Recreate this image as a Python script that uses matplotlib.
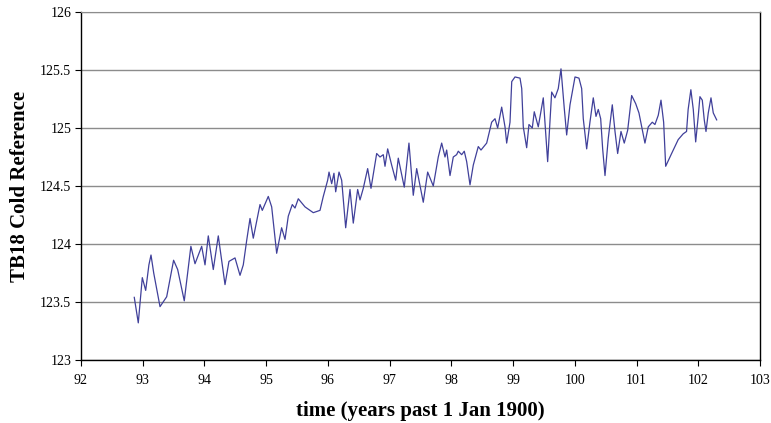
import numpy as np
import matplotlib
matplotlib.use("Agg")
import matplotlib.pyplot as plt

# TB18 cold reference readings, time in years past 1 Jan 1900
t = [92.863, 92.928, 92.993, 93.048, 93.10, 93.134, 93.178, 93.28, 93.388, 93.50,
     93.566, 93.673, 93.78, 93.847, 93.955, 94.009, 94.062, 94.143, 94.224, 94.333,
     94.397, 94.495, 94.576, 94.629, 94.684, 94.738, 94.791, 94.90, 94.937, 95.034,
     95.089, 95.17, 95.25, 95.305, 95.358, 95.423, 95.467, 95.52, 95.629, 95.763,
     95.872, 95.925, 95.996, 96.018, 96.061, 96.098, 96.126, 96.18, 96.223, 96.288,
     96.358, 96.411, 96.482, 96.52, 96.573, 96.644, 96.698, 96.79, 96.844, 96.897,
     96.925, 96.968, 97.033, 97.098, 97.14, 97.237, 97.313, 97.383, 97.438, 97.545,
     97.616, 97.707, 97.788, 97.843, 97.897, 97.924, 97.978, 98.031, 98.085, 98.112,
     98.167, 98.209, 98.248, 98.302, 98.355, 98.436, 98.48, 98.572, 98.653, 98.707,
     98.75, 98.815, 98.869, 98.896, 98.95, 98.978, 99.031, 99.112, 99.14, 99.165,
     99.22, 99.257, 99.311, 99.343, 99.408, 99.489, 99.56, 99.625, 99.678, 99.732,
     99.776, 99.829, 99.868, 99.922, 99.949, 100.003, 100.067, 100.111, 100.137, 100.192,
     100.245, 100.299, 100.343, 100.38, 100.419, 100.451, 100.489, 100.542, 100.607, 100.651,
     100.694, 100.748, 100.801, 100.856, 100.921, 100.986, 101.039, 101.136, 101.19, 101.255,
     101.298, 101.352, 101.396, 101.439, 101.472, 101.568, 101.675, 101.756, 101.81, 101.836,
     101.88, 101.919, 101.958, 101.999, 102.027, 102.065, 102.097, 102.125, 102.162, 102.206,
     102.243, 102.298]
cold_ref = [123.54, 123.32, 123.71, 123.60, 123.82, 123.905, 123.75, 123.46, 123.545, 123.86,
            123.78, 123.51, 123.98, 123.83, 123.98, 123.82, 124.07, 123.78, 124.07, 123.65,
            123.85, 123.88, 123.73, 123.82, 124.03, 124.22, 124.05, 124.34, 124.29, 124.41,
            124.32, 123.92, 124.14, 124.04, 124.24, 124.34, 124.31, 124.39, 124.32, 124.27,
            124.29, 124.41, 124.55, 124.62, 124.52, 124.61, 124.45, 124.62, 124.55, 124.14,
            124.47, 124.18, 124.47, 124.38, 124.48, 124.65, 124.48, 124.78, 124.75, 124.77,
            124.67, 124.82, 124.68, 124.55, 124.74, 124.49, 124.87, 124.42, 124.65, 124.36,
            124.62, 124.50, 124.75, 124.87, 124.75, 124.81, 124.59, 124.75, 124.77, 124.80,
            124.77, 124.80, 124.71, 124.51, 124.68, 124.84, 124.81, 124.87, 125.05, 125.08,
            125.00, 125.18, 125.01, 124.87, 125.05, 125.40, 125.44, 125.43, 125.34, 125.01,
            124.83, 125.03, 125.00, 125.14, 125.01, 125.26, 124.71, 125.31, 125.26, 125.34,
            125.51, 125.17, 124.94, 125.20, 125.28, 125.44, 125.43, 125.34, 125.08, 124.82,
            125.05, 125.26, 125.10, 125.16, 125.08, 124.82, 124.59, 124.91, 125.20, 124.97,
            124.78, 124.97, 124.87, 124.98, 125.28, 125.21, 125.13, 124.87, 125.01, 125.05,
            125.03, 125.11, 125.24, 125.05, 124.67, 124.78, 124.90, 124.95, 124.97, 125.16,
            125.33, 125.16, 124.88, 125.10, 125.27, 125.24, 125.07, 124.97, 125.13, 125.26,
            125.13, 125.07]

x_ticks = list(range(92, 104))
y_ticks = [123, 123.5, 124, 124.5, 125, 125.5, 126]
y_labels = ["123", "123.5", "124", "124.5", "125", "125.5", "126"]

plt.rcParams['font.family'] = ['Liberation Serif', 'DejaVu Serif']

fig = plt.figure(figsize=(7.71, 4.23), dpi=100)
ax = fig.add_axes([81/771, 1 - 360/423, (760 - 81)/771, (360 - 12)/423])

ax.plot(t, cold_ref, color='#40409a', linewidth=0.9, solid_joinstyle='round')

ax.set_xlim(92, 103)
ax.set_ylim(123, 126)
ax.set_xticks(x_ticks)
ax.set_yticks(y_ticks)
ax.set_yticklabels(y_labels)
ax.tick_params(axis='x', direction='out', length=4, width=0.8, pad=6, labelsize=10)
ax.tick_params(axis='y', direction='out', length=4, width=0.8, pad=3, labelsize=10)

# horizontal grid only
ax.yaxis.grid(True, color='#8c8c8c', linewidth=1.0)
ax.set_axisbelow(True)
for side in ['left', 'bottom', 'right']:
    ax.spines[side].set_color('black')
    ax.spines[side].set_linewidth(1.0)
ax.spines['top'].set_color('#8c8c8c')

ax.set_xlabel('time (years past 1 Jan 1900)', fontsize=15, fontweight='bold', labelpad=10)
ax.set_ylabel('TB18 Cold Reference', fontsize=15, fontweight='bold', labelpad=7)

fig.savefig('out.png', dpi=100)
